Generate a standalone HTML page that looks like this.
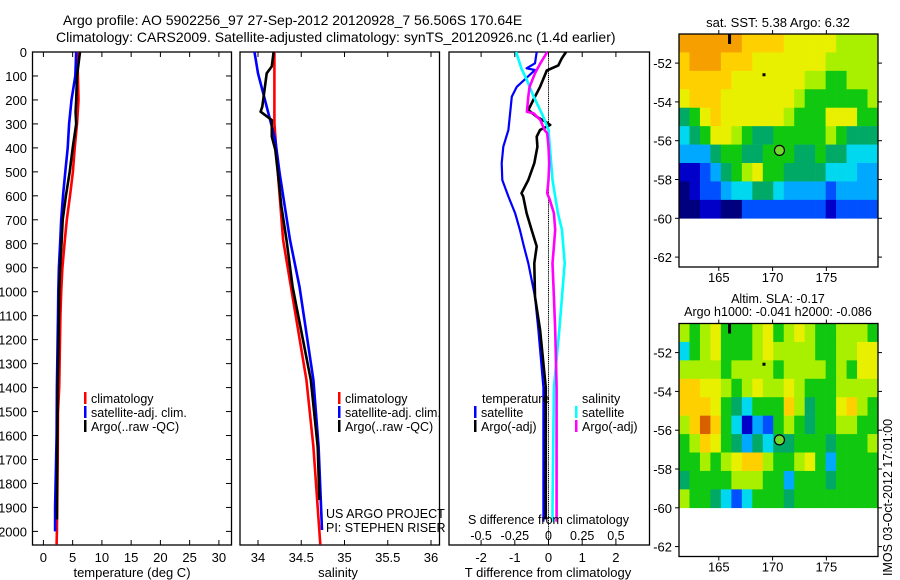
<!DOCTYPE html>
<html><head><meta charset="utf-8"><style>
body{margin:0;background:#fff;}
svg{display:block;font-family:"Liberation Sans",sans-serif;}
text{fill:#000;}
</style></head><body>
<svg id="fig" width="900" height="580" viewBox="0 0 900 580" xmlns="http://www.w3.org/2000/svg">
<text x="63" y="25" font-size="14">Argo profile: AO 5902256_97 27-Sep-2012 20120928_7 56.506S 170.64E</text>
<text x="56" y="42" font-size="14">Climatology: CARS2009. Satellite-adjusted climatology: synTS_20120926.nc (1.4d earlier)</text>
<g id="g"></g>
</svg>
<script>
// ---------- data ----------
const tempDepthClim=[0,100,200,300,400,500,600,700,800,900,1000,1100,1400,1500,1700,2000,2054];
const tempClim=[5.8,5.9,6.0,5.75,5.35,5.05,4.55,4.0,3.6,3.25,3.05,2.9,2.7,2.5,2.45,2.3,2.25];
const tempDepthSat=[0,100,200,300,400,500,600,700,800,900,1000,1100,1400,1600,1900,2000];
const tempSat=[5.6,5.45,4.8,4.4,4.15,3.75,3.35,3.05,2.85,2.65,2.55,2.5,2.3,2.25,2.0,2.0];
const tempDepthArgo=[0,100,200,250,300,400,500,600,700,800,900,1000,1100,1400,1700,1950];
const tempArgo=[6.25,5.75,5.6,5.5,5.6,5.0,4.5,3.85,3.3,3.1,2.85,2.7,2.65,2.45,2.35,2.3];

const salDepthClim=[0,296,505,784,979,1368,1647,2054];
const salClim=[34.19,34.19,34.23,34.29,34.38,34.56,34.64,34.72];
const salDepthSat=[0,89,228,367,505,644,784,979,1368,1647,1994];
const salSat=[33.96,34.0,34.10,34.2,34.25,34.31,34.37,34.48,34.64,34.70,34.74];
const salDepthArgo=[0,60,89,228,249,284,353,408,505,644,784,979,1368,1647,1869];
const salArgo=[34.18,34.16,34.1,34.05,34.03,34.16,34.16,34.2,34.23,34.27,34.33,34.40,34.61,34.69,34.71];

const dDepthTSat=[0,47,68,75,145,186,256,325,395,464,534,603,672,742,811,881,1021,1160,1400,1900,1960];
const dTSat=[-0.35,-0.4,-0.65,-0.4,-0.94,-1.09,-1.14,-1.19,-1.34,-1.39,-1.37,-1.19,-0.99,-0.85,-0.73,-0.6,-0.4,-0.3,-0.15,-0.15,-0.15];
const dDepthTArgo=[0,28,56,77,145,186,242,270,290,304,325,353,395,464,534,589,603,672,742,811,881,1021,1160,1400,1900,1950];
const dTArgo=[0.52,0.39,0.29,-0.05,-0.25,-0.4,-0.6,-0.35,-0.1,0.05,-0.25,-0.35,-0.33,-0.42,-0.6,-0.8,-0.75,-0.65,-0.5,-0.35,-0.42,-0.4,-0.25,-0.08,-0.08,-0.08];
const dDepthSSat=[0,70,117,186,256,325,395,464,534,603,672,742,811,881,1021,1160,1400,1900,1960];
const dSSat=[-0.24,-0.2,-0.16,-0.11,-0.05,0,0.01,0.02,0.03,0.05,0.07,0.1,0.11,0.12,0.1,0.08,0.04,0.03,0.03];
const dDepthSArgo=[0,47,89,145,186,249,256,284,325,339,395,464,534,589,617,672,742,811,881,1021,1160,1400,1500,1900,1960];
const dSArgo=[-0.01,-0.06,-0.1,-0.14,-0.15,-0.16,-0.11,-0.06,-0.03,-0.01,0,0.005,0,-0.01,0.01,0.04,0.05,0.04,0.03,0.04,0.05,0.06,0.06,0.06,0.06];

const depthTicks=[0,100,200,300,400,500,600,700,800,900,1000,1100,1200,1300,1400,1500,1600,1700,1800,1900,2000];
const tempTicks=[0,5,10,15,20,25,30];
const salTicks=[34,34.5,35,35.5,36];
const salTickLabels=["34","34.5","35","35.5","36"];
const dTTicks=[-2,-1,0,1,2];
const dSTicks=[-0.5,-0.25,0,0.25,0.5];
const latTicks=[-52,-54,-56,-58,-60,-62];
const lonTicks=[165,170,175];

const sstGrid=[
[10,10,10,10,10,10,9,9,9,9,8,8,8,8,8,7,7,7,7],
[9,10,10,10,9,9,9,8,8,8,8,8,8,8,7,7,7,7,7],
[9,9,9,9,9,8,8,8,8,8,8,8,7,7,6,6,7,7,7],
[8,9,9,9,8,8,8,8,8,8,8,7,6,6,6,6,6,6,7],
[5,6,8,9,8,8,8,8,8,8,7,6,6,6,8,8,8,6,6],
[4,5,6,8,8,7,6,5,5,6,6,6,6,6,7,6,5,5,5],
[3,3,3,5,6,6,5,5,6,6,6,5,5,6,5,5,4,4,4],
[1,1,2,3,5,6,7,8,6,6,5,5,5,5,4,4,4,3,3],
[0,1,2,2,3,4,4,5,5,4,3,3,3,3,2,3,3,3,3],
[0,0,1,1,0,0,2,2,2,2,2,2,2,2,1,2,2,2,2]];
const slaGrid=[
[7,6,7,8,6,6,6,7,8,6,7,8,7,6,6,7,7,7,6],
[4,6,7,8,6,6,6,7,8,7,7,7,7,6,6,7,7,8,8],
[7,7,7,7,6,7,7,7,7,6,7,7,7,7,6,7,6,8,8],
[9,9,8,8,7,6,7,8,7,7,8,7,6,6,6,7,7,7,7],
[9,9,9,8,6,5,4,6,6,6,9,7,5,6,6,8,9,7,6],
[7,9,11,9,6,4,1,3,2,6,7,6,5,6,6,7,7,6,6],
[6,7,9,8,6,5,3,5,4,5,5,6,6,6,5,6,6,6,7],
[6,6,7,6,7,8,9,9,7,6,6,7,8,6,3,6,6,6,6],
[5,6,6,6,6,7,7,7,6,6,3,6,6,6,5,6,6,6,6],
[7,6,6,5,4,2,4,6,6,6,5,6,6,6,6,6,6,6,6]];
const argoLon=170.64, argoLat=-56.5;

// ---------- helpers ----------
const NS="http://www.w3.org/2000/svg";
const G=document.getElementById('g');
function el(tag,attrs,parent,txt){const e=document.createElementNS(NS,tag);for(const k in attrs)e.setAttribute(k,attrs[k]);if(txt!==undefined)e.textContent=txt;(parent||G).appendChild(e);return e;}
const Y0=52,YS=0.2397,PB=545,PT=52;
const yD=d=>Y0+d*YS;
const xT=v=>43.4+v*5.85;
const xS=v=>258+(v-34)*86.5;
const xDT=v=>548.5+v*33.7;
const xDS=v=>548.5+v*134.8;

function panel(name,x0,x1){
  const r=el('rect',{x:x0,y:PT,width:x1-x0,height:PB-PT,fill:'none',stroke:'#000','stroke-width':1.3});
  
  
}
function line(name,xs,ds,fx,color,w){
  const pts=xs.map((v,i)=>fx(v).toFixed(1)+','+yD(ds[i]).toFixed(1)).join(' ');
  const p=el('polyline',{points:pts,fill:'none',stroke:color,'stroke-width':w||2.6,'stroke-linejoin':'round'});
  
  
}
function xticks(name,ticks,labels,fx,ly){
  ticks.forEach((t,i)=>{
    const x=fx(t);
    el('line',{x1:x,y1:PT,x2:x,y2:PT+5,stroke:'#000'});
    el('line',{x1:x,y1:PB,x2:x,y2:PB-5,stroke:'#000'});
    if(ly){const tx=el('text',{x:x,y:ly,'font-size':13,'text-anchor':'middle'},G,labels[i]);
    
    }
  });
}
function legend(name,x,y,color,label){
  el('rect',{x:x,y:y-6,width:2.5,height:12,fill:color});
  const t=el('text',{x:x+7,y:y+5,'font-size':12.5},G,label);
  
  
}

// ---------- panel 1 temperature ----------
panel('temperature-panel',32.5,231.5);
depthTicks.forEach(d=>{
  const y=yD(d);
  el('line',{x1:32.5,y1:y,x2:38,y2:y,stroke:'#000'});
  el('line',{x1:231.5,y1:y,x2:226,y2:y,stroke:'#000'});
  const t=el('text',{x:27,y:y+5,'font-size':13,'text-anchor':'end'},G,String(d));
  
  
});
xticks('temperature',tempTicks,tempTicks.map(String),xT,562);
line('temp-climatology-line',tempClim,tempDepthClim,xT,'#ff0000');
line('temp-satellite-line',tempSat,tempDepthSat,xT,'#0000ff');
line('temp-argo-line',tempArgo,tempDepthArgo,xT,'#000');
legend('legend-climatology',84,398,'#ff0000','climatology');
legend('legend-satellite-adj',84,412,'#0000ff','satellite-adj. clim.');
legend('legend-argo',84,426,'#000','Argo(..raw -QC)');
let t=el('text',{x:132,y:577,'font-size':13,'text-anchor':'middle'},G,'temperature (deg C)');



// ---------- panel 2 salinity ----------
panel('salinity-panel',240,439.5);
xticks('salinity',salTicks,salTickLabels,xS,562);
line('sal-climatology-line',salClim,salDepthClim,xS,'#ff0000');
line('sal-satellite-line',salSat,salDepthSat,xS,'#0000ff');
line('sal-argo-line',salArgo,salDepthArgo,xS,'#000');
legend('legend2-climatology',338,398,'#ff0000','climatology');
legend('legend2-satellite-adj',338,412,'#0000ff','satellite-adj. clim.');
legend('legend2-argo',338,426,'#000','Argo(..raw -QC)');
t=el('text',{x:326,y:518,'font-size':12.5},G,'US ARGO PROJECT');


t=el('text',{x:326,y:532,'font-size':12.5},G,'PI: STEPHEN RISER');


t=el('text',{x:338,y:577,'font-size':13,'text-anchor':'middle'},G,'salinity');



// ---------- panel 3 differences ----------
panel('difference-panel',449,649.5);
xticks('t-difference',dTTicks,dTTicks.map(String),xDT,562);
for(let d=0;d<2054;d+=8){el('line',{x1:xDT(0),y1:yD(d),x2:xDT(0),y2:yD(d)+1.2,stroke:'#000','stroke-width':1});}
line('dT-satellite-line',dTSat,dDepthTSat,xDT,'#0000ff',2.2);
line('dT-argo-line',dTArgo,dDepthTArgo,xDT,'#000',2.6);
line('dS-satellite-line',dSSat,dDepthSSat,xDS,'#00ffff',2.6);
line('dS-argo-line',dSArgo,dDepthSArgo,xDS,'#ff00ff',2.6);
t=el('text',{x:482,y:403,'font-size':12.5},G,'temperature');


t=el('text',{x:582,y:403,'font-size':12.5},G,'salinity');


legend('legend3-t-satellite',474,412,'#0000ff','satellite');
legend('legend3-t-argo',474,426,'#000','Argo(-adj)');
legend('legend3-s-satellite',575,412,'#00ffff','satellite');
legend('legend3-s-argo',575,426,'#ff00ff','Argo(-adj)');
t=el('text',{x:468,y:524,'font-size':12.5},G,'S difference from climatology');


dSTicks.forEach(v=>{const tt=el('text',{x:xDS(v),y:540,'font-size':12.5,'text-anchor':'middle'},G,String(v));

});
t=el('text',{x:548,y:577,'font-size':13,'text-anchor':'middle'},G,'T difference from climatology');



// ---------- maps ----------
const pal=['#00007f','#0000c8','#0050ff','#00a8ff','#00d8f0','#00aa66','#10c810','#a8f000','#e8f000','#ffd000','#f5a000','#d86000'];
const LON0=161.3,LON1=179.8,LAT0=-50.5,LATB=-60,LATMIN=-63.3;
function map(name,grid,top){
  const X0=679,X1=878,H=233;
  const xL=lon=>X0+(lon-LON0)*(X1-X0)/(LON1-LON0);
  const yL=lat=>top+(LAT0-lat)*19.4;
  const nr=grid.length,nc=grid[0].length;
  const cw=(LON1-LON0)/nc,ch=(LAT0-LATB)/nr;
  grid.forEach((row,j)=>row.forEach((v,i)=>{
    const x=xL(LON0+i*cw),y=yL(LAT0-j*ch);
    const c=el('rect',{x:x.toFixed(2),y:y.toFixed(2),width:(xL(LON0+(i+1)*cw)-x+0.3).toFixed(2),height:(yL(LAT0-(j+1)*ch)-y+0.3).toFixed(2),fill:pal[Math.max(0,Math.min(11,v))]});
    
    
  }));
  const fr=el('rect',{x:X0,y:top,width:X1-X0,height:H,fill:'none',stroke:'#000','stroke-width':1.3});
  
  
  latTicks.forEach(l=>{const y=yL(l);
    el('line',{x1:X0,y1:y,x2:X0-4,y2:y,stroke:'#000'});
    el('line',{x1:X1,y1:y,x2:X1+4,y2:y,stroke:'#000'});
    const tt=el('text',{x:672,y:y+5,'font-size':13,'text-anchor':'end'},G,String(l));
    
    });
  lonTicks.forEach(l=>{const x=xL(l);
    el('line',{x1:x,y1:top,x2:x,y2:top-4,stroke:'#000'});
    el('line',{x1:x,y1:top+H,x2:x,y2:top+H+4,stroke:'#000'});
    const tt=el('text',{x:x,y:top+H+15,'font-size':13,'text-anchor':'middle'},G,String(l));
    
    });
  el('rect',{x:xL(166)-1.5,y:top,width:3,height:10,fill:'#000'});
  el('rect',{x:xL(169.2)-1.5,y:yL(-52.6)-1.5,width:3,height:3,fill:'#000'});
  const m=el('circle',{cx:xL(argoLon),cy:yL(argoLat),r:5,fill:'#70d830',stroke:'#000','stroke-width':1.2});
  
  
}
map('sst-map',sstGrid,34);
map('sla-map',slaGrid,323.5);
t=el('text',{x:778,y:27,'font-size':13,'text-anchor':'middle'},G,'sat. SST: 5.38 Argo: 6.32');


t=el('text',{x:778,y:303,'font-size':12.5,'text-anchor':'middle'},G,'Altim. SLA: -0.17');


t=el('text',{x:778,y:316,'font-size':12.5,'text-anchor':'middle'},G,'Argo h1000: -0.041 h2000: -0.086');


t=el('text',{x:0,y:0,'font-size':12.5,transform:'translate(892,576) rotate(-90)'},G,'IMOS 03-Oct-2012 17:01:00');


</script>
</body></html>
